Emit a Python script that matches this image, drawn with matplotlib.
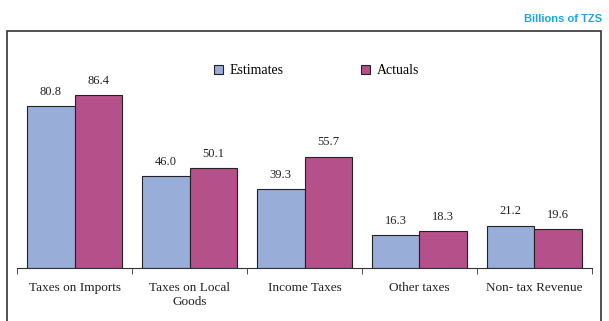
import numpy as np
import matplotlib.pyplot as plt
from matplotlib.patches import Rectangle

# revenue by category, billions of TZS
categories = ['Taxes on Imports', 'Taxes on Local\nGoods', 'Income Taxes',
              'Other taxes', 'Non- tax Revenue']
estimates = [80.8, 46.0, 39.3, 16.3, 21.2]
actuals = [86.4, 50.1, 55.7, 18.3, 19.6]

est_color = '#99ADD9'
act_color = '#B5508A'
serif = 'Liberation Serif'

fig = plt.figure(figsize=(6.09, 3.21), dpi=100)
ax = fig.add_axes([0.028, 0.165, 0.944, 0.623])

# frame around the chart area (runs past the bottom edge)
fig.patches.append(Rectangle((0.012, -0.05), 0.975, 0.953, transform=fig.transFigure,
                             fill=False, edgecolor='#333333', linewidth=1.2))

x = np.arange(len(categories))
barWidth = 0.415
b1 = ax.bar(x - barWidth / 2, estimates, width=barWidth, color=est_color,
            edgecolor='#222222', linewidth=0.8, label='Estimates')
b2 = ax.bar(x + barWidth / 2, actuals, width=barWidth, color=act_color,
            edgecolor='#222222', linewidth=0.8, label='Actuals')

for bars, vals in ((b1, estimates), (b2, actuals)):
    for bar, v in zip(bars, vals):
        ax.annotate(f'{v:.1f}', (bar.get_x() + bar.get_width() / 2, v),
                    xytext=(0, 6), textcoords='offset points', ha='center',
                    va='bottom', fontsize=9, family=serif, color='#222222')

ax.set_xlim(-0.5, len(categories) - 0.5)
ax.set_ylim(0, 100)
for side in ('top', 'right', 'left'):
    ax.spines[side].set_visible(False)
ax.spines['bottom'].set_color('#333333')
ax.set_yticks([])

ax.set_xticks(x)
ax.set_xticklabels(categories, fontsize=9.5, family=serif, color='#222222')
ax.tick_params(axis='x', which='major', length=0, pad=10)
ax.set_xticks(np.arange(len(categories) + 1) - 0.5, minor=True)
ax.tick_params(axis='x', which='minor', length=4, direction='out', color='#333333')

fig.legend(handles=[b1, b2], loc='center', bbox_to_anchor=(0.52, 0.78),
           ncol=2, frameon=False, prop={'family': serif, 'size': 10},
           handlelength=0.6, handleheight=0.6, handletextpad=0.5,
           columnspacing=5.6)

fig.text(0.988, 0.925, 'Billions of TZS', ha='right', va='bottom',
         fontsize=8, fontweight='bold', family='Liberation Sans', color='#1AA7E6')

fig.savefig('out.png', dpi=100)
